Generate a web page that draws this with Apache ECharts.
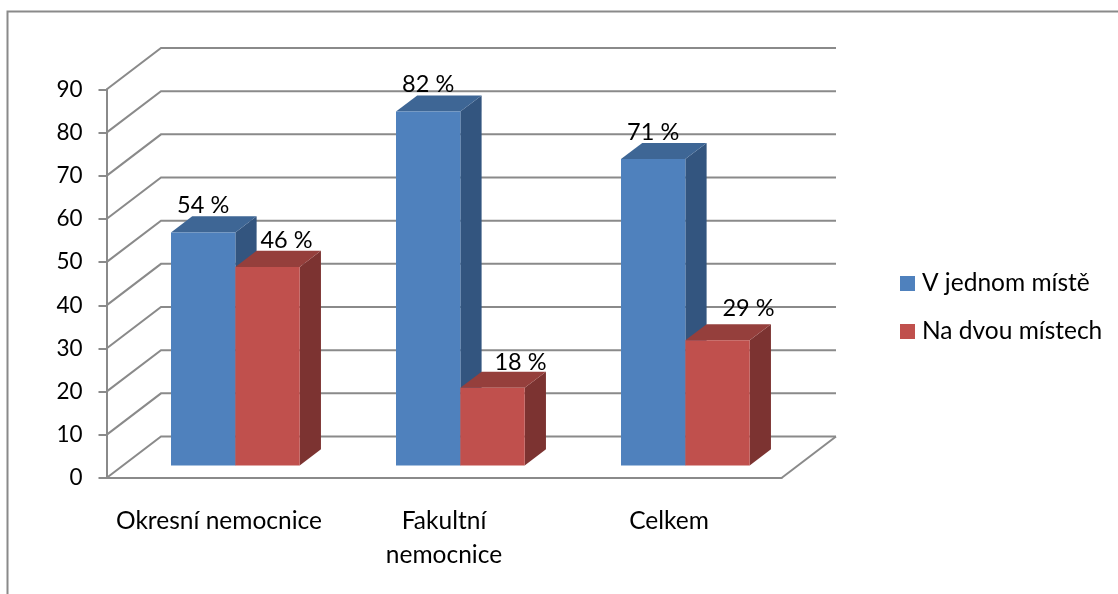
<!DOCTYPE html>
<html>
<head>
<meta charset="utf-8">
<style>html,body{margin:0;padding:0;background:#fff}#chart{width:1118px;height:594px}</style>
<script src="https://cdn.jsdelivr.net/npm/echarts@6/dist/echarts.min.js"></script>
</head>
<body>
<div id="chart"></div>
<script>
// Survey results by hospital type
const categories = ['Okresní nemocnice', 'Fakultní\nnemocnice', 'Celkem'];
const seriesNames = ['V jednom místě', 'Na dvou místech'];
const oneSite = [54, 82, 71];
const twoSites = [46, 18, 29];
const yTicks = [0, 10, 20, 30, 40, 50, 60, 70, 80, 90];

// Pseudo-3D projection of the plot box, in pixels
const WALL_DX = 54.5, WALL_DY = -41.5;
const BAR_START = 0.30, BAR_DEPTH = 0.39;
const BAR_BAND = 0.286;
const FONT = 'Lato';
const GRID_COLOR = '#8a8a8a';

// Value labels sit beside the bars where a neighbour would cover them
const oneSiteLabelShift = [[0, -27], [0, -27], [0, -27]];
const twoSitesLabelShift = [[19, -27], [28, -25], [31, -32]];

function wallItem(params, api) {
  const box = params.coordSys;
  const y = api.coord([0, api.value(1)])[1];
  const right = box.x + box.width;
  const lines = [{
    type: 'polyline',
    shape: { points: [[box.x, y], [box.x + WALL_DX, y + WALL_DY], [right + WALL_DX, y + WALL_DY]] },
    style: { fill: null, stroke: GRID_COLOR, lineWidth: 2 }
  }];
  if (api.value(1) === 0) {
    lines.push({
      type: 'line',
      shape: { x1: right, y1: y, x2: right + WALL_DX, y2: y + WALL_DY },
      style: { stroke: GRID_COLOR, lineWidth: 2 }
    });
  }
  return { type: 'group', children: lines };
}

function barRenderer(side, front, top, flank, shifts) {
  return function (params, api) {
    const cat = api.value(0), val = api.value(1);
    const band = api.size([1, 0])[0];
    const w = band * BAR_BAND;
    const tip = api.coord([cat, val]);
    const foot = api.coord([cat, 0]);
    const sx = WALL_DX * BAR_START, sy = WALL_DY * BAR_START;
    const dx = WALL_DX * BAR_DEPTH, dy = WALL_DY * BAR_DEPTH;
    const x0 = tip[0] + sx + (side < 0 ? -w : 0);
    const x1 = x0 + w;
    const yt = tip[1] + sy, yb = foot[1] + sy;
    const shift = shifts[params.dataIndex];
    return {
      type: 'group',
      children: [
        { type: 'polygon', shape: { points: [[x1, yt], [x1 + dx, yt + dy], [x1 + dx, yb + dy], [x1, yb]] }, style: { fill: flank } },
        { type: 'polygon', shape: { points: [[x0, yt], [x0 + dx, yt + dy], [x1 + dx, yt + dy], [x1, yt]] }, style: { fill: top } },
        { type: 'rect', shape: { x: x0, y: yt, width: w, height: yb - yt }, style: { fill: front } },
        { type: 'text', z2: 10, style: {
            x: (x0 + x1) / 2 + shift[0], y: yt + shift[1],
            text: val + ' %', fill: '#000', font: '23.5px ' + FONT,
            textAlign: 'center', textVerticalAlign: 'middle'
        } }
      ]
    };
  };
}

const chart = echarts.init(document.getElementById('chart'));
chart.setOption({
  animation: false,
  backgroundColor: '#fff',
  textStyle: { fontFamily: FONT },
  grid: { left: 106.5, top: 89.5, width: 675, height: 388.5 },
  legend: {
    orient: 'vertical', left: 895, top: 266, icon: 'rect', itemWidth: 15, itemHeight: 15, itemGap: 23,
    selectedMode: false, data: seriesNames,
    textStyle: { fontFamily: FONT, fontSize: 24.5, color: '#000', padding: [0, 0, 0, 2] }
  },
  xAxis: {
    type: 'category', data: categories,
    axisLine: { lineStyle: { color: GRID_COLOR, width: 2 } },
    axisTick: { length: 8, lineStyle: { color: GRID_COLOR, width: 2 } },
    axisLabel: { color: '#000', fontSize: 24.5, margin: 26, lineHeight: 34, interval: 0 }
  },
  yAxis: {
    type: 'value', min: 0, max: 90, interval: 10,
    axisLine: { show: true, lineStyle: { color: GRID_COLOR, width: 2 } },
    axisTick: { show: true, length: 8, lineStyle: { color: GRID_COLOR, width: 2 } },
    axisLabel: { color: '#000', fontSize: 22.5, margin: 24, padding: [6, 0, 0, 0] },
    splitLine: { show: false }
  },
  graphic: [{
    type: 'polyline', silent: true,
    shape: { points: [[7.5, 594], [7.5, 11.5], [1118, 11.5]] },
    style: { fill: null, stroke: GRID_COLOR, lineWidth: 2 }
  }],
  series: [
    { type: 'custom', name: 'walls', z: 1, renderItem: wallItem,
      data: yTicks.map(t => [0, t]), encode: { x: 0, y: 1 } },
    { type: 'custom', name: seriesNames[0], z: 2, itemStyle: { color: '#4f81bd' },
      renderItem: barRenderer(-1, '#4f81bd', '#3e6695', '#33557f', oneSiteLabelShift),
      data: oneSite.map((v, i) => [i, v]), encode: { x: 0, y: 1 } },
    { type: 'custom', name: seriesNames[1], z: 3, itemStyle: { color: '#c0504d' },
      renderItem: barRenderer(1, '#c0504d', '#953f3c', '#7c3331', twoSitesLabelShift),
      data: twoSites.map((v, i) => [i, v]), encode: { x: 0, y: 1 } }
  ]
});
</script>
</body>
</html>
